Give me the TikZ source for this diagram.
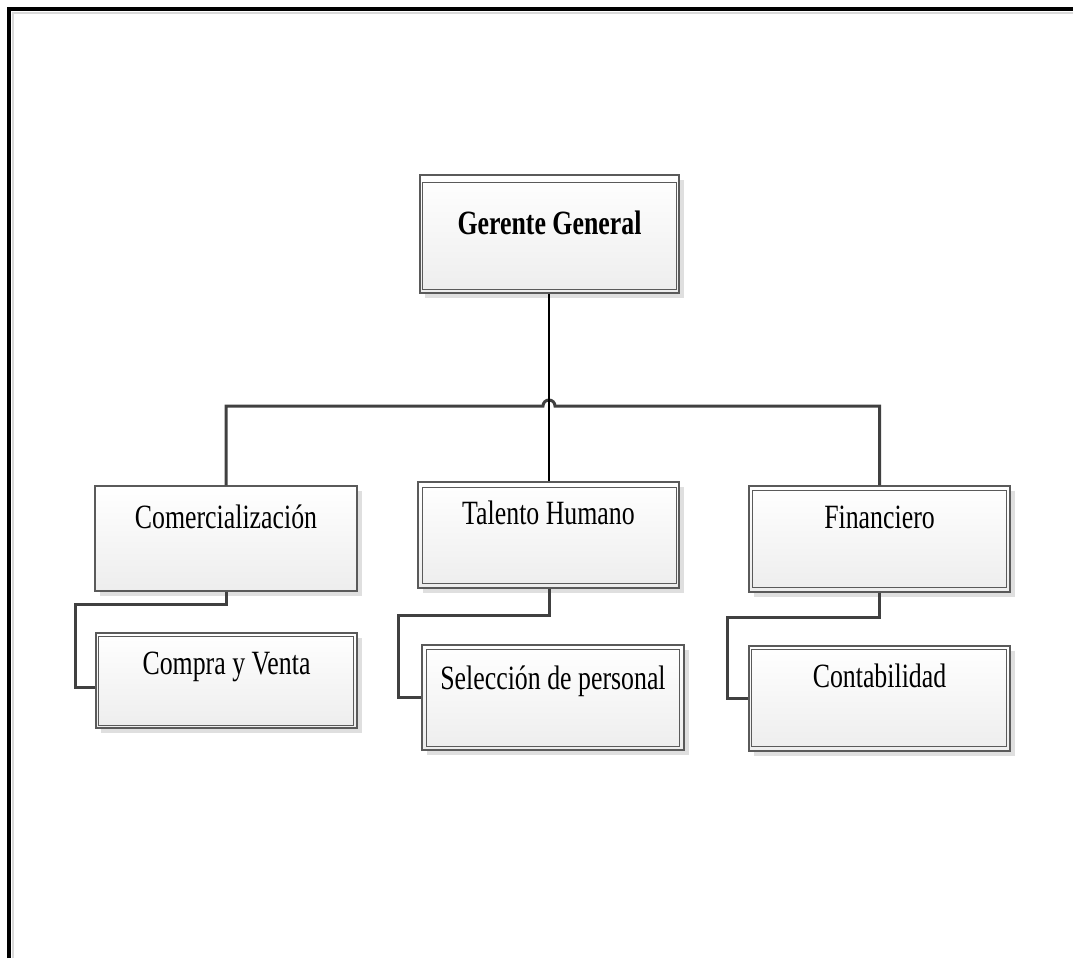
\documentclass[tikz,border=0pt]{standalone}
\usepackage{fontspec}
\setmainfont{Liberation Serif}
\newfontfamily\bxf[FakeStretch=0.76]{Liberation Serif}
\usetikzlibrary{shadows,calc}
\definecolor{lnk}{HTML}{404040}
\definecolor{brd}{HTML}{5A5A5A}
\tikzset{
  orgbox/.style={draw=brd, line width=1.3pt, inner sep=0pt, top color=white, bottom color=gray!14,
    drop shadow={shadow xshift=5pt, shadow yshift=-5pt, fill=gray!25, opacity=1}},
  innerbrd/.style={draw=brd, line width=1.1pt},
  lbl/.style={anchor=base, inner sep=0pt, font=\bxf\fontsize{34}{40}\selectfont},
  bus/.style={draw=lnk, line width=3pt},
  blk/.style={draw=black, line width=2pt},
  frame/.style={draw=black, line width=4pt}
}
\begin{document}
\begin{tikzpicture}[x=1pt,y=-1pt]
\useasboundingbox (0,0) rectangle (1073,958);
% frame
\draw[gray!30, line width=2pt] (13,958) -- (13,13) -- (1073,13);
\draw[frame] (9,958) -- (9,9) -- (1073,9);

% boxes
\node[orgbox, minimum width=259pt, minimum height=118pt] (gg) at (549.5,234) {};
\node[orgbox, minimum width=262pt, minimum height=105pt] (com) at (226,538.5) {};
\node[orgbox, minimum width=261pt, minimum height=106pt] (th) at (548.5,535) {};
\node[orgbox, minimum width=261pt, minimum height=106pt] (fin) at (879.5,539) {};
\node[orgbox, minimum width=261pt, minimum height=95pt] (cv) at (226.5,680.5) {};
\node[orgbox, minimum width=262pt, minimum height=105pt] (sel) at (553,697.5) {};
\node[orgbox, minimum width=261pt, minimum height=105pt] (con) at (879.5,698.5) {};

% inner borders
\draw[innerbrd] ([shift={(3,8)}]gg.north west) rectangle ([shift={(-3,-4)}]gg.south east);
\draw[innerbrd] ([shift={(5,6)}]th.north west) rectangle ([shift={(-3,-5)}]th.south east);
\draw[innerbrd] ([shift={(4,5)}]fin.north west) rectangle ([shift={(-4,-5)}]fin.south east);
\draw[innerbrd] ([shift={(3,4)}]cv.north west) rectangle ([shift={(-4,-3)}]cv.south east);
\draw[innerbrd] ([shift={(5,5)}]sel.north west) rectangle ([shift={(-5,-4)}]sel.south east);
\draw[innerbrd] ([shift={(3,4)}]con.north west) rectangle ([shift={(-4,-5)}]con.south east);

% labels
\node[lbl, font=\bxf\bfseries\fontsize{34}{40}\selectfont] (tgg) at ($(gg.north)+(0,60)$) {Gerente General};
\node[lbl] (tcom) at ($(com.north)+(0,43)$) {Comercialización};
\node[lbl] (tth) at ($(th.north)+(0,43)$) {Talento Humano};
\node[lbl] (tfin) at ($(fin.north)+(0,43)$) {Financiero};
\node[lbl] (tcv) at ($(cv.north)+(0,42)$) {Compra y Venta};
\node[lbl] (tsel) at ($(sel.north)+(0,45)$) {Selección de personal};
\node[lbl] (tcon) at ($(con.north)+(0,42)$) {Contabilidad};

% connectors
\coordinate (hop) at (549,406);
\draw[bus] (com.north) |- ($(hop)+(-6,0)$) arc[start angle=180, end angle=0, radius=6pt] -| (fin.north);
\draw[blk] (gg.south -| hop) -- (th.north -| hop);

\coordinate (c1) at (75,604);
\coordinate (c2) at (75,687);
\draw[bus] (com.south) |- (c1) -- (c2) -- (c2 -| cv.west);

\coordinate (t1) at (398,615);
\draw[bus] (th.south -| hop) |- (t1) |- (sel.west);

\coordinate (f1) at (727,617);
\draw[bus] (fin.south) |- (f1) |- (con.west);
\end{tikzpicture}
\end{document}
